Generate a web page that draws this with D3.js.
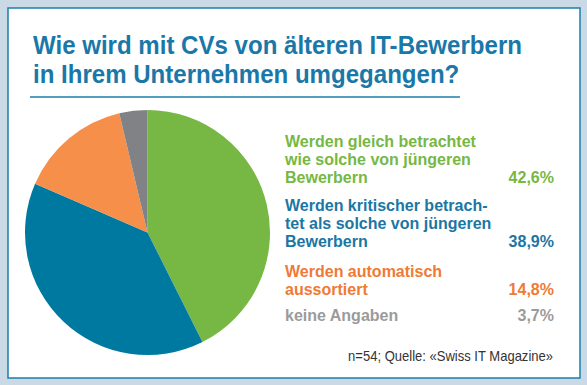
<!DOCTYPE html>
<html><head><meta charset="utf-8">
<script src="https://cdn.jsdelivr.net/npm/d3@7"></script>
<style>html,body{margin:0;padding:0;background:#c9dae6;}svg{display:block;}</style>
</head><body>
<svg id="chart" width="587" height="385"></svg>
<script>
const titleLines = ["Wie wird mit CVs von älteren IT-Bewerbern", "in Ihrem Unternehmen umgegangen?"];
const categories = [
  ["Werden gleich betrachtet", "wie solche von jüngeren", "Bewerbern"],
  ["Werden kritischer betrach-", "tet als solche von jüngeren", "Bewerbern"],
  ["Werden automatisch", "aussortiert"],
  ["keine Angaben"]
];
const values = [42.6, 38.9, 14.8, 3.7];
const valueLabels = ["42,6%", "38,9%", "14,8%", "3,7%"];
const sliceColors = ["#76b843", "#0079a1", "#f68f4a", "#808285"];
const textColors = ["#76b843", "#1b76a4", "#ef7a36", "#9b9b9b"];
const source = "n=54; Quelle: «Swiss IT Magazine»";

const svg = d3.select("#chart");
const FONT = "'Liberation Sans', Arial, sans-serif";

// panel
svg.append("rect").attr("x", 8).attr("y", 8).attr("width", 572).attr("height", 370)
  .attr("fill", "#ffffff").attr("stroke", "#1a7fab").attr("stroke-width", 1.5);

function condensedText(g, str, x, y, size, weight, color, sx, anchor) {
  return g.append("text").text(str)
    .attr("font-family", FONT).attr("font-size", size).attr("font-weight", weight)
    .attr("fill", color).attr("text-anchor", anchor || "start")
    .attr("transform", `translate(${x},${y}) scale(${sx},1)`);
}
function naturalWidth(str, size, weight) {
  const t = svg.append("text").text(str).attr("font-family", FONT)
    .attr("font-size", size).attr("font-weight", weight);
  const w = t.node().getComputedTextLength();
  t.remove();
  return w;
}

// title
const titleSize = 25.8;
const titleSx = 489 / naturalWidth(titleLines[0], titleSize, 700);
const titleBase = [54, 83];
titleLines.forEach((l, i) => condensedText(svg, l, 33, titleBase[i], titleSize, 700, "#1a78a8", titleSx));
svg.append("line").attr("x1", 30).attr("x2", 460).attr("y1", 97).attr("y2", 97)
  .attr("stroke", "#1a7fab").attr("stroke-width", 1.5);

// pie
const cx = 147.5, cy = 232.5, r = 122.5;
const pie = d3.pie().sort(null).value(d => d)(values);
const arc = d3.arc().innerRadius(0).outerRadius(r);
svg.append("g").attr("transform", `translate(${cx},${cy})`)
  .selectAll("path").data(pie).join("path")
  .attr("d", arc).attr("fill", (d, i) => sliceColors[i]);

// legend
const legSize = 16;
const legSx = 191 / naturalWidth(categories[0][0], legSize, 700);
const lineH = 18;
const lastBaselines = [183, 247, 295, 321];
categories.forEach((lines, i) => {
  const last = lastBaselines[i];
  lines.forEach((l, j) => {
    const y = last - (lines.length - 1 - j) * lineH;
    condensedText(svg, l, 285, y, legSize, 700, textColors[i], legSx);
  });
  condensedText(svg, valueLabels[i], 554, last, legSize, 700, textColors[i], legSx, "end");
});

// source
const srcSize = 14;
const srcSx = 205 / naturalWidth(source, srcSize, 400);
condensedText(svg, source, 553, 361, srcSize, 400, "#333333", srcSx, "end");
</script>
</body></html>
